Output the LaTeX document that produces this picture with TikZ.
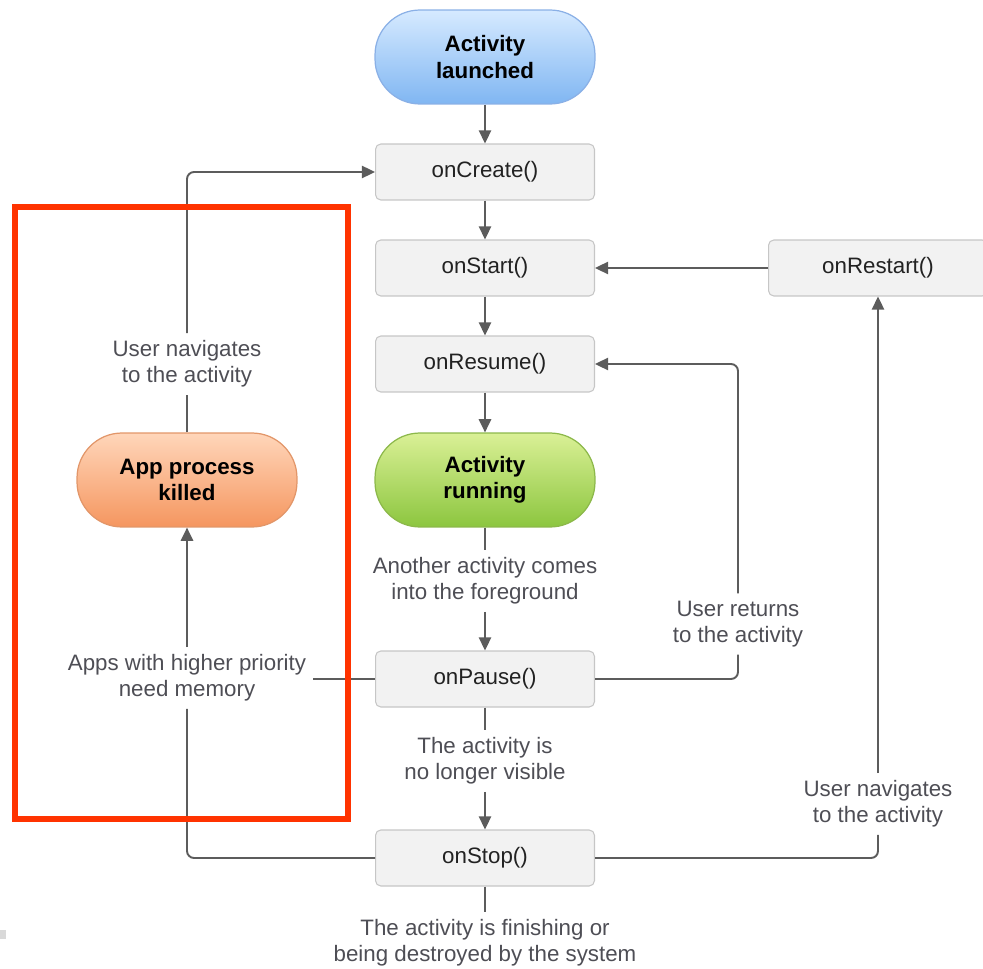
\documentclass[tikz,border=0pt]{standalone}
\usepackage{fontspec}
\setmainfont{Liberation Sans}
\usetikzlibrary{arrows.meta, positioning}

\definecolor{boxfill}{HTML}{F2F2F2}
\definecolor{boxline}{HTML}{C6C6C6}
\definecolor{boxtext}{HTML}{222222}
\definecolor{notetext}{HTML}{4E4E55}
\definecolor{linegray}{HTML}{5C5C5C}
\definecolor{framered}{HTML}{FF3300}

\tikzset{
	stage/.style = {draw = boxline, fill = boxfill, line width = 0.6pt, rounded corners = 3pt,
		minimum width = 4.38cm, minimum height = 1.12cm, text = boxtext,
		font = \fontsize{12.7}{15}\selectfont},
	state/.style = {rounded corners = 0.9cm, line width = 0.7pt, minimum width = 4.4cm,
		minimum height = 1.88cm, align = center, font = \fontsize{12.7}{15}\selectfont\bfseries},
	note/.style = {align = center, text = notetext, inner sep = 4pt,
		font = \fontsize{12.7}{15}\selectfont},
	link/.style = {draw = linegray, line width = 1.1pt, rounded corners = 4pt},
	flow/.style = {link, -{Triangle[width = 7pt, length = 7.5pt]}},
}

\begin{document}
\begin{tikzpicture}[x = 0.02cm, y = -0.02cm]
	\useasboundingbox (0, 0) rectangle (983, 969);

	\node[state, draw = {rgb,255:red,138;green,176;blue,230}, top color = {rgb,255:red,214;green,234;blue,255},
		bottom color = {rgb,255:red,128;green,182;blue,242}] (launch) at (485, 57) {Activity\\launched};
	\node[state, draw = {rgb,255:red,140;green,184;blue,74}, top color = {rgb,255:red,218;green,240;blue,150},
		bottom color = {rgb,255:red,140;green,198;blue,63}] (running) at (485, 480) {Activity\\running};
	\node[state, draw = {rgb,255:red,226;green,150;blue,105}, top color = {rgb,255:red,255;green,214;blue,186},
		bottom color = {rgb,255:red,245;green,150;blue,95}] (killed) at (187, 480) {App process\\killed};

	\node[stage] (create) at (485, 172) {onCreate()};
	\node[stage] (start) at (485, 268) {onStart()};
	\node[stage] (restart) at (878, 268) {onRestart()};
	\node[stage] (resume) at (485, 364) {onResume()};
	\node[stage] (pause) at (485, 679) {onPause()};
	\node[stage] (stop) at (485, 858) {onStop()};

	\node[note] (foreground) at (485, 581) {Another activity comes\\into the foreground};
	\node[note] (hidden) at (485, 761) {The activity is\\no longer visible};
	\node[note] (finish) at (485, 943) {The activity is finishing or\\being destroyed by the system};
	\node[note] (returns) at (738, 624) {User returns\\to the activity};
	\node[note] (navright) at (878, 804) {User navigates\\to the activity};
	\node[note] (navleft) at (187, 364) {User navigates\\to the activity};
	\node[note] (memory) at (187, 678) {Apps with higher priority\\need memory};

	\draw[flow] (launch) -- (create);
	\draw[flow] (create) -- (start);
	\draw[flow] (start) -- (resume);
	\draw[flow] (resume) -- (running);
	\draw[link] (running) -- (foreground);
	\draw[flow] (foreground) -- (pause);
	\draw[link] (pause) -- (hidden);
	\draw[flow] (hidden) -- (stop);
	\draw[link] (stop) -- (finish);

	\draw[flow] (restart) -- (start);
	\draw[link] (stop.east) -| (navright);
	\draw[flow] (navright) -- (restart);

	\draw[link] (pause.east) -| (returns);
	\draw[flow] (returns.north) |- (resume.east);

	\draw[link] (pause.west) -- (pause.west -| memory.east);
	\draw[link] (stop.west) -| (memory);
	\draw[flow] (memory) -- (killed);
	\draw[link] (killed) -- (navleft);
	\draw[flow] (navleft.north) |- (create.west);

	\draw[framered, line width = 3.4pt] (15, 207) rectangle (348, 819);
	\fill[gray!30] (0, 930) rectangle (6, 939);
\end{tikzpicture}
\end{document}
